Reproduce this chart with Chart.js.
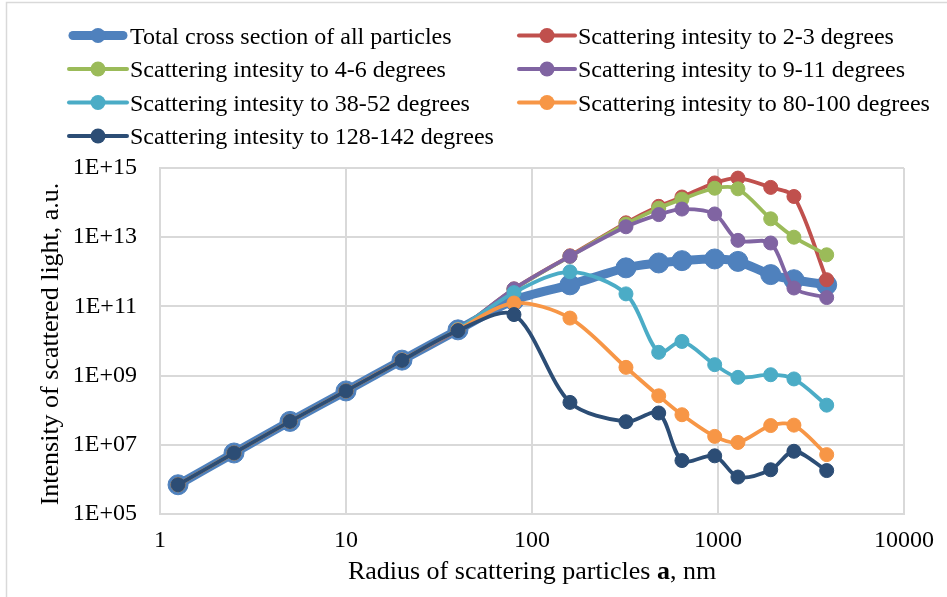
<!DOCTYPE html>
<html>
<head>
<meta charset="utf-8">
<title>Scattering intensity vs particle radius</title>
<script src="https://cdn.jsdelivr.net/npm/chart.js@4.4.1/dist/chart.umd.min.js"></script>
<style>
  html, body { margin: 0; padding: 0; background: #fff; }
  #wrap { width: 947px; height: 597px; position: relative; }
</style>
</head>
<body>
<div id="wrap"><canvas id="chart" width="947" height="597"></canvas></div>
<script>
// particle radius, nm
const radius = [1.25, 2.5, 5, 10, 20, 40, 80, 160, 320, 480, 640, 960, 1280, 1920, 2560, 3840];

// intensity of scattered light, a.u.
const totalCross = [7.0e5, 5.8e6, 4.75e7, 3.6e8, 2.8e9, 2.1e10, 1.5e11, 4.2e11, 1.3e12, 1.8e12, 2.1e12, 2.35e12, 2.0e12, 8.3e11, 5.9e11, 4.2e11];
const deg2to3    = [7.0e5, 5.8e6, 4.75e7, 3.6e8, 2.8e9, 2.1e10, 3.2e11, 2.9e12, 2.6e13, 7.8e13, 1.45e14, 3.7e14, 5.1e14, 2.75e14, 1.5e14, 5.9e11];
const deg4to6    = [7.0e5, 5.8e6, 4.75e7, 3.6e8, 2.8e9, 2.1e10, 3.1e11, 2.8e12, 2.4e13, 6.9e13, 1.26e14, 2.6e14, 2.5e14, 3.4e13, 1.0e13, 3.1e12];
const deg9to11   = [7.0e5, 5.8e6, 4.75e7, 3.6e8, 2.8e9, 2.1e10, 3.2e11, 2.8e12, 2.0e13, 4.5e13, 6.5e13, 4.7e13, 8.1e12, 6.8e12, 3.4e11, 1.8e11];
const deg38to52  = [7.0e5, 5.8e6, 4.75e7, 3.6e8, 2.8e9, 2.2e10, 2.5e11, 1.0e12, 2.3e11, 4.7e9, 9.7e9, 2.07e9, 8.9e8, 1.06e9, 8.0e8, 1.4e8];
const deg80to100 = [7.0e5, 5.8e6, 4.75e7, 3.6e8, 2.8e9, 2.1e10, 1.25e11, 4.6e10, 1.73e9, 2.6e8, 7.4e7, 1.75e7, 1.17e7, 3.6e7, 3.7e7, 5.2e6];
const deg128to142 = [7.0e5, 5.8e6, 4.75e7, 3.6e8, 2.75e9, 2.0e10, 5.8e10, 1.68e8, 4.65e7, 8.3e7, 3.5e6, 4.8e6, 1.17e6, 1.9e6, 6.5e6, 1.8e6];

const seriesNames = [
  'Total cross section of all particles',
  'Scattering intesity to 2-3 degrees',
  'Scattering intesity to 4-6 degrees',
  'Scattering intesity to 9-11 degrees',
  'Scattering intesity to 38-52 degrees',
  'Scattering intesity to 80-100 degrees',
  'Scattering intesity to 128-142 degrees'
];
const seriesValues = [totalCross, deg2to3, deg4to6, deg9to11, deg38to52, deg80to100, deg128to142];
const seriesColors = ['#4F81BD', '#C0504D', '#9BBB59', '#8064A2', '#4BACC6', '#F79646', '#2C4D75'];

const xTicks = [1, 10, 100, 1000, 10000];
const yTicks = [1e5, 1e7, 1e9, 1e11, 1e13, 1e15];

const FONT = '"Liberation Serif", "Times New Roman", serif';
const GRID = '#d9d9d9';

Chart.defaults.font.family = FONT;
Chart.defaults.font.size = 24;
Chart.defaults.color = '#000';

const datasets = seriesNames.map((name, i) => {
  const thick = i === 0;
  return {
    label: name,
    data: radius.map((r, k) => ({ x: r, y: seriesValues[i][k] })),
    borderColor: seriesColors[i],
    backgroundColor: seriesColors[i],
    pointBackgroundColor: seriesColors[i],
    pointBorderColor: seriesColors[i],
    borderWidth: thick ? 9 : 3.8,
    pointRadius: thick ? 10 : 7,
    pointBorderWidth: 1,
    tension: 0.3,
    fill: false,
    // first series sits underneath the others
    order: seriesNames.length - i
  };
});

// frame, legend and axis titles
const decor = {
  id: 'decor',
  beforeDraw(chart) {
    const ctx = chart.ctx;
    ctx.save();
    ctx.fillStyle = '#fff';
    ctx.fillRect(0, 0, chart.width, chart.height);
    ctx.strokeStyle = GRID;
    ctx.lineWidth = 1.5;
    ctx.beginPath();
    ctx.moveTo(6.5, chart.height);
    ctx.lineTo(6.5, 2.5);
    ctx.lineTo(chart.width, 2.5);
    ctx.stroke();
    ctx.restore();
  },
  afterDraw(chart) {
    const ctx = chart.ctx;
    const area = chart.chartArea;
    ctx.save();

    // legend, two columns
    const cols = [{ sx: 69, tx: 130 }, { sx: 519, tx: 578 }];
    const rowY = [35.5, 69, 102.5, 136];
    ctx.font = '24px ' + FONT;
    ctx.textAlign = 'left';
    ctx.textBaseline = 'alphabetic';
    seriesNames.forEach((name, i) => {
      const c = cols[i % 2];
      const y = rowY[Math.floor(i / 2)];
      const x0 = c.sx, x1 = c.tx - 3;
      ctx.strokeStyle = seriesColors[i];
      ctx.lineCap = 'round';
      ctx.lineWidth = i === 0 ? 9 : 4;
      ctx.beginPath();
      ctx.moveTo(x0 + (i === 0 ? 4 : 0), y);
      ctx.lineTo(x1 - (i === 0 ? 4 : 0), y);
      ctx.stroke();
      ctx.fillStyle = seriesColors[i];
      ctx.beginPath();
      ctx.arc((x0 + x1) / 2, y, 7.5, 0, Math.PI * 2);
      ctx.fill();
      ctx.fillStyle = '#000';
      ctx.fillText(name, c.tx, y + 8);
    });

    // x axis title with bold symbol
    const size = 26;
    const partA = 'Radius of scattering particles ';
    const partB = 'a';
    const partC = ', nm';
    ctx.font = size + 'px ' + FONT;
    const wA = ctx.measureText(partA).width;
    const wC = ctx.measureText(partC).width;
    ctx.font = 'bold ' + size + 'px ' + FONT;
    const wB = ctx.measureText(partB).width;
    let tx = (area.left + area.right) / 2 - (wA + wB + wC) / 2;
    const ty = 579;
    ctx.font = size + 'px ' + FONT;
    ctx.fillText(partA, tx, ty);
    tx += wA;
    ctx.font = 'bold ' + size + 'px ' + FONT;
    ctx.fillText(partB, tx, ty);
    tx += wB;
    ctx.font = size + 'px ' + FONT;
    ctx.fillText(partC, tx, ty);

    // y axis title
    ctx.translate(58, (area.top + area.bottom) / 2 + 3);
    ctx.rotate(-Math.PI / 2);
    ctx.textAlign = 'center';
    ctx.fillText('Intensity of scattered light, a.u.', 0, 0);
    ctx.restore();
  }
};

new Chart(document.getElementById('chart'), {
  type: 'line',
  data: { datasets },
  plugins: [decor],
  options: {
    responsive: false,
    animation: false,
    devicePixelRatio: 1,
    layout: { padding: { left: 0, top: 168, right: 43, bottom: 0 } },
    plugins: {
      legend: { display: false },
      tooltip: { enabled: false },
      title: { display: false }
    },
    scales: {
      x: {
        type: 'logarithmic',
        min: 1,
        max: 10000,
        afterBuildTicks: (scale) => { scale.ticks = xTicks.map(v => ({ value: v })); },
        afterFit: (scale) => { scale.height = 83; },
        ticks: {
          padding: 12,
          maxRotation: 0,
          autoSkip: false,
          callback: (v) => String(v)
        },
        grid: { color: GRID, lineWidth: 2, drawTicks: false },
        border: { color: GRID, width: 2 }
      },
      y: {
        type: 'logarithmic',
        min: 1e5,
        max: 1e15,
        afterBuildTicks: (scale) => { scale.ticks = yTicks.map(v => ({ value: v })); },
        afterFit: (scale) => { scale.width = 160; },
        ticks: {
          padding: 23,
          autoSkip: false,
          callback: (v) => '1E+' + String(Math.round(Math.log10(v))).padStart(2, '0')
        },
        grid: { color: GRID, lineWidth: 2, drawTicks: false },
        border: { color: GRID, width: 2 }
      }
    }
  }
});
</script>
</body>
</html>
